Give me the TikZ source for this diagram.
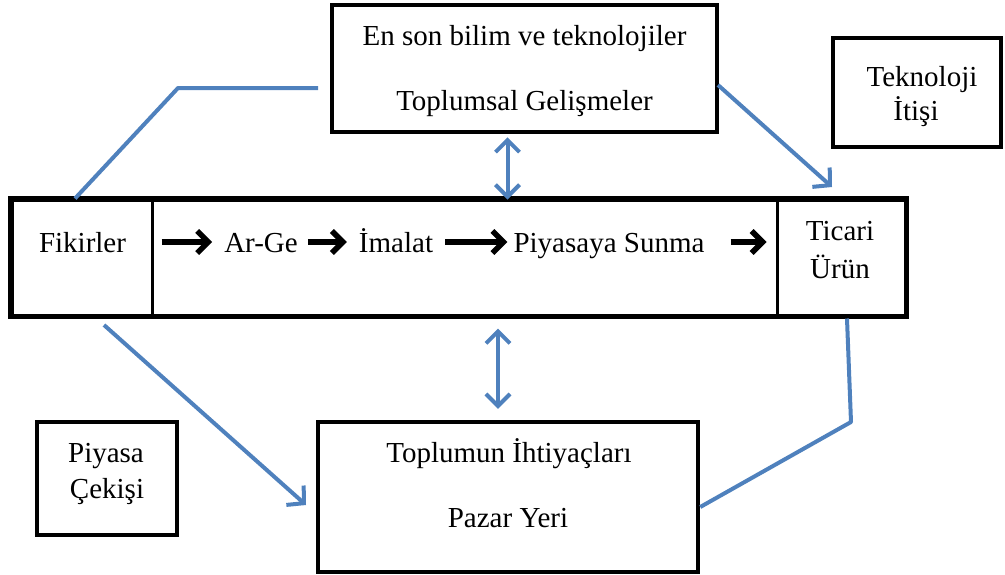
\documentclass[tikz,border=0pt]{standalone}
\usepackage{fontspec}
\setmainfont{Liberation Serif}
\usetikzlibrary{arrows.meta}
\definecolor{lineblue}{HTML}{4F81BD}
\begin{document}
\begin{tikzpicture}[x=1pt,y=-1pt,
  box/.style={draw=black,line width=4.5pt,inner sep=0pt,rectangle},
  cell/.style={draw=black,line width=3pt,inner sep=0pt,rectangle},
  txt/.style={inner sep=0pt,anchor=base,font=\fontsize{29}{33}\selectfont},
  blk/.style={line width=5.5pt,-{Straight Barb[length=11pt,width=22pt]}},
  bl/.style={draw=lineblue,line width=4pt,line join=round},
  blarrow/.style={bl,-{Straight Barb[length=12pt,width=26pt]}},
  bldbl/.style={bl,{Straight Barb[length=12pt,width=24pt]}-{Straight Barb[length=12pt,width=24pt]}}]
\useasboundingbox (0,0) rectangle (1005,574);
% boxes
\node[box,minimum width=385pt,minimum height=127pt] (top) at (524.5,68.5) {};
\node[box,minimum width=168pt,minimum height=109pt] (tek) at (917,92.5) {};
\node[cell,minimum width=140pt,minimum height=115pt] (fik) at (82,257.5) {};
\node[cell,minimum width=625pt,minimum height=115pt] (mid) at (464.5,257.5) {};
\node[cell,minimum width=128pt,minimum height=115pt] (tic) at (841,257.5) {};
\draw[line width=5pt] (fik.north west) rectangle (tic.south east);
\node[box,minimum width=140pt,minimum height=113pt] (pc) at (107,478.5) {};
\node[box,minimum width=380pt,minimum height=150pt] (bot) at (508,497) {};
% texts
\node[txt] (t1) at (524.5,45) {En son bilim ve teknolojiler};
\node[txt] (t2) at (524.5,110) {Toplumsal Gelişmeler};
\node[txt] (t3) at (922,86) {Teknoloji};
\node[txt] (t4) at (916,120) {İtişi};
\node[txt] (fk) at (82.5,252) {Fikirler};
\node[txt] (ag) at (261,252) {Ar-Ge};
\node[txt] (im) at (396,252) {İmalat};
\node[txt] (ps) at (609,252) {Piyasaya Sunma};
\node[txt] (tc1) at (840,240) {Ticari};
\node[txt] (tc2) at (840,278) {Ürün};
\node[txt] (p1) at (106,462) {Piyasa};
\node[txt] (p2) at (107,498) {Çekişi};
\node[txt] (b1) at (509,462) {Toplumun İhtiyaçları};
\node[txt] (b2) at (508,527) {Pazar Yeri};
% black arrows
\coordinate (ay) at (0,242);
\draw[blk] ([xshift=8pt]fik.east |- ay) -- ([xshift=-12pt]ag.west |- ay);
\draw[blk] ([xshift=10pt]ag.east |- ay) -- ([xshift=-12pt]im.west |- ay);
\draw[blk] ([xshift=12pt]im.east |- ay) -- ([xshift=-6pt]ps.west |- ay);
\draw[blk] ([xshift=26pt]ps.east |- ay) -- ([xshift=-9pt]tic.west |- ay);
% blue connectors
\coordinate (c1) at (178,88);
\coordinate (c2) at (318,88);
\draw[bl] ([xshift=-7pt]fik.north) -- (c1) -- (c2);
\coordinate (c3) at (832,187);
\draw[blarrow] (718,85) -- (c3);
\draw[bldbl] ([xshift=-17pt,yshift=-3pt]top.south) -- ([xshift=-17pt,yshift=-1pt]top.south |- mid.north);
\draw[bldbl] ([xshift=-10pt,yshift=-12pt]bot.north |- mid.south) -- ([xshift=-10pt,yshift=11pt]bot.north);
\coordinate (c4) at (104,325);
\coordinate (c5) at (306,505);
\draw[blarrow] (c4) -- (c5);
\coordinate (c6) at (851,422);
\draw[bl] ([xshift=6pt,yshift=-2pt]tic.south) -- (c6) -- (bot.east |- 0,507);
\end{tikzpicture}
\end{document}
